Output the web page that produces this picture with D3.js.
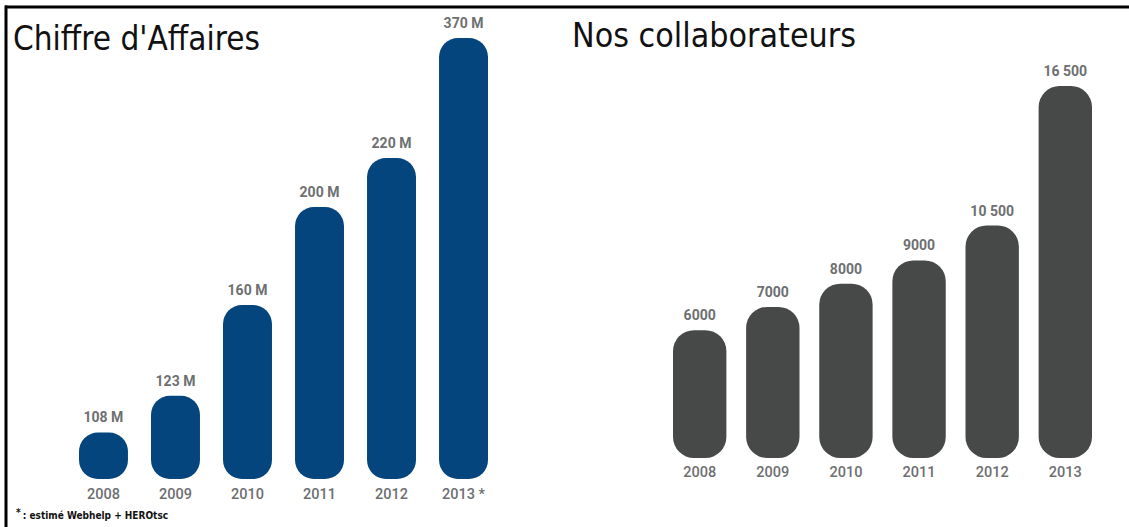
<!DOCTYPE html>
<html><head><meta charset="utf-8">
<script src="https://cdn.jsdelivr.net/npm/d3@7"></script>
<style>body{margin:0;background:#fff;} svg{display:block;}</style>
</head><body>
<svg id="c" width="1129" height="527"></svg>
<script>
// ---- data ----
const years = ["2008", "2009", "2010", "2011", "2012", "2013"];
const revenue = [108, 123, 160, 200, 220, 370];
const revenueLabels = ["108 M", "123 M", "160 M", "200 M", "220 M", "370 M"];
const revenueYearLabels = ["2008", "2009", "2010", "2011", "2012", "2013 *"];
const staff = [6000, 7000, 8000, 9000, 10500, 16500];
const staffLabels = ["6000", "7000", "8000", "9000", "10 500", "16 500"];
const staffYearLabels = ["2008", "2009", "2010", "2011", "2012", "2013"];
const titles = ["Chiffre d'Affaires", "Nos collaborateurs"];
const footnote = ": estimé Webhelp + HEROtsc";

const svg = d3.select("#c");
svg.append("rect").attr("width", 1129).attr("height", 527).attr("fill", "#fff");

// frame lines (top and left)
svg.append("line").attr("x1", 5).attr("x2", 1129).attr("y1", 7).attr("y2", 7)
  .attr("stroke", "#000").attr("stroke-width", 3);
svg.append("line").attr("x1", 6).attr("x2", 6).attr("y1", 5.5).attr("y2", 527)
  .attr("stroke", "#000").attr("stroke-width", 3);

const labelFont = "Roboto, 'DejaVu Sans Condensed', sans-serif";
const titleFont = "'DejaVu Sans Condensed', 'DejaVu Sans', sans-serif";

function drawPanel(cfg) {
  const g = svg.append("g");
  const rows = years.map((y, i) => ({year: y, v: cfg.values[i], label: cfg.labels[i], ylab: cfg.yearLabels[i]}));
  const bw = cfg.x.bandwidth();
  const base = cfg.y.range()[0];
  g.selectAll("rect.bar").data(rows).join("rect")
    .attr("class", "bar")
    .attr("x", d => cfg.x(d.year))
    .attr("width", bw)
    .attr("y", d => cfg.y(d.v))
    .attr("height", d => base - cfg.y(d.v))
    .attr("rx", d => Math.min(cfg.r, (base - cfg.y(d.v)) / 2))
    .attr("fill", cfg.color);
  g.selectAll("text.val").data(rows).join("text")
    .attr("class", "val")
    .attr("x", d => cfg.x(d.year) + bw / 2)
    .attr("y", d => cfg.y(d.v) - 10)
    .attr("text-anchor", "middle")
    .attr("font-family", labelFont)
    .attr("font-weight", 700)
    .attr("font-size", 14)
    .attr("fill", "#6e6f71")
    .text(d => d.label);
  g.selectAll("text.yr").data(rows).join("text")
    .attr("class", "yr")
    .attr("x", d => cfg.x(d.year) + bw / 2)
    .attr("y", cfg.yearY)
    .attr("text-anchor", "middle")
    .attr("font-family", labelFont)
    .attr("font-weight", 500)
    .attr("font-size", 14.5)
    .attr("fill", "#6e6f71")
    .text(d => d.ylab);
  g.append("text")
    .attr("x", cfg.titleX).attr("y", cfg.titleY)
    .attr("font-family", titleFont)
    .attr("font-size", 34)
    .attr("fill", "#111")
    .attr("textLength", cfg.titleW)
    .attr("lengthAdjust", "spacingAndGlyphs")
    .text(cfg.title);
}

const xL = d3.scaleBand().domain(years).range([79, 488]).paddingInner(0.32).paddingOuter(0);
// the source infographic is not drawn to scale: its tallest (estimated) bar is truncated at the top
const yL = d3.scaleLinear().domain([89, 269]).range([479, 38]).clamp(true);
const xR = d3.scaleBand().domain(years).range([673, 1092]).paddingInner(0.27).paddingOuter(0);
const yR = d3.scaleLinear().domain([500, 16500]).range([458, 86]);

drawPanel({x: xL, y: yL, values: revenue, labels: revenueLabels, yearLabels: revenueYearLabels,
  color: "#03457c", r: 19, yearY: 499, title: titles[0], titleX: 13, titleY: 50, titleW: 247});
drawPanel({x: xR, y: yR, values: staff, labels: staffLabels, yearLabels: staffYearLabels,
  color: "#474949", r: 21, yearY: 477, title: titles[1], titleX: 572, titleY: 47, titleW: 284});

const fn = svg.append("text")
  .attr("x", 16).attr("y", 519)
  .attr("font-family", "'Liberation Sans Narrow', 'DejaVu Sans Condensed', sans-serif")
  .attr("font-weight", 700)
  .attr("font-size", 10)
  .attr("fill", "#111");
fn.append("tspan").attr("dy", -3).text("*");
fn.append("tspan").attr("dy", 3).attr("dx", 2).text(footnote);
</script>
</body></html>
